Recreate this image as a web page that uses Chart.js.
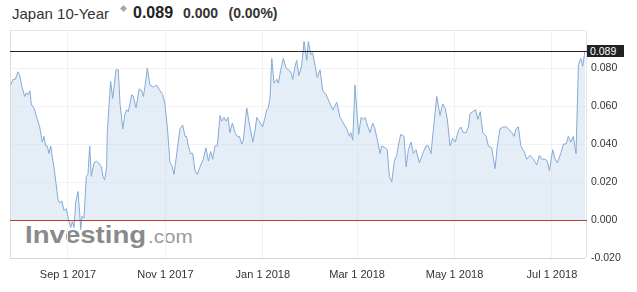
<!DOCTYPE html>
<html>
<head>
<meta charset="utf-8">
<script src="https://cdn.jsdelivr.net/npm/chart.js@4/dist/chart.umd.min.js"></script>
<style>
  html, body { margin:0; padding:0; background:#fff; }
  body { width:637px; height:292px; position:relative; overflow:hidden; font-family:"Liberation Sans", Arial, sans-serif; }
  #c { position:absolute; left:0; top:0; z-index:2; }
  .t { position:absolute; white-space:nowrap; }
  #logo1, #logo2 { z-index:1; }
  #hdr-box { z-index:3; }
</style>
</head>
<body>
<div class="t" style="left:12px; top:5.6px; font-size:15px; line-height:15px; color:#333;">Japan 10-Year</div>
<div style="position:absolute; left:121px; top:6px; width:5px; height:5px; background:#a8a8a8; transform:rotate(45deg);"></div>
<div class="t" style="left:133px; top:4.8px; font-size:16px; line-height:16px; font-weight:bold; color:#222;">0.089</div>
<div class="t" style="left:183px; top:6.4px; font-size:14px; line-height:14px; font-weight:bold; color:#333;">0.000</div>
<div class="t" style="left:228.5px; top:6.4px; font-size:14px; line-height:14px; font-weight:bold; color:#333;">(0.00%)</div>
<div id="logo1" class="t" style="left:25px; top:223.8px; font-size:23px; line-height:23px; font-weight:bold; color:#8a8a8a; transform:scaleX(1.2); transform-origin:left top;">Investing</div>
<div id="logo2" class="t" style="left:148px; top:228.1px; font-size:18px; line-height:18px; color:#9a9a9a; transform:scaleX(1.15); transform-origin:left top;">.com</div>
<div id="hdr-box" class="t" style="left:587px; top:45px; width:37px; height:12px; background:#222; color:#fff; font-size:10.5px; line-height:12px; padding-left:3px; box-sizing:border-box;">0.089</div>
<canvas id="c" width="637" height="292"></canvas>
<script>
// Days since 2017-07-01
const dayOffsets = [
26.1,27.6,29.0,30.7,31.8,33.2,34.9,35.9,37.0,38.2,
39.0,40.7,42.8,44.3,45.9,47.0,48.0,49.0,50.1,51.2,
52.2,53.7,55.7,56.8,58.2,59.5,60.9,62.4,63.7,64.7,
65.8,66.8,68.3,69.3,70.0,70.8,72.0,73.5,74.5,75.6,
76.6,78.3,79.7,81.2,82.9,83.9,85.0,86.2,86.6,88.7,
90.0,92.1,93.5,94.6,96.3,97.7,98.8,99.8,101.9,102.9,
104.6,106.6,108.2,109.2,110.2,111.7,113.3,115.4,117.5,119.6,
121.3,122.7,124.2,125.9,127.0,128.4,130.1,132.1,133.8,135.3,
136.3,137.3,138.8,140.1,141.5,143.0,144.7,146.7,148.4,149.9,
151.4,152.6,154.1,155.5,157.2,158.2,159.7,160.9,162.2,163.4,
164.9,166.6,168.0,169.3,170.8,171.8,173.9,175.5,177.7,179.1,
180.2,181.8,183.9,185.4,186.4,187.4,188.5,189.6,191.0,192.7,
193.7,195.2,196.8,198.5,200.0,201.5,202.7,204.2,205.2,206.5,
208.3,209.8,211.5,212.5,214.0,215.2,216.7,218.1,219.8,221.5,
223.6,225.6,227.8,230.3,232.3,234.4,236.5,238.2,239.0,240.3,
241.7,242.8,244.0,245.5,246.9,248.0,249.4,251.1,252.8,254.2,
255.7,257.4,258.4,260.5,261.9,263.2,264.7,266.3,267.8,268.8,
270.3,272.4,273.7,275.1,276.8,278.2,279.9,282.0,284.1,286.2,
287.6,289.3,290.7,292.9,294.9,296.6,298.1,299.5,301.2,302.9,
304.5,306.4,307.9,309.5,311.2,312.7,313.7,315.4,317.1,318.6,
320.1,321.7,323.8,325.2,327.3,329.4,330.8,332.5,334.6,336.3,
337.7,339.8,341.3,342.5,344.0,345.5,347.6,349.2,351.3,353.4,
355.5,357.1,358.6,360.7,362.1,363.4,365.5,367.0,368.4,370.5,
372.2,373.8,375.3,376.8,378.4,380.1,381.6,383.1,384.3,385.7
];
const yields = [
0.071,0.074,0.074,0.078,0.076,0.070,0.065,0.067,0.066,0.068,
0.061,0.059,0.053,0.049,0.041,0.044,0.039,0.039,0.035,0.039,
0.033,0.025,0.011,0.009,0.010,0.005,0.006,0.000,-0.004,-0.001,
-0.004,0.009,0.015,0.004,-0.005,0.002,0.001,0.023,0.024,0.039,
0.023,0.030,0.031,0.030,0.028,0.023,0.021,0.028,0.046,0.073,
0.064,0.079,0.079,0.061,0.048,0.056,0.058,0.057,0.066,0.065,
0.059,0.069,0.068,0.065,0.070,0.080,0.071,0.070,0.071,0.068,
0.066,0.061,0.049,0.030,0.029,0.024,0.035,0.048,0.050,0.044,
0.044,0.039,0.035,0.035,0.026,0.024,0.028,0.032,0.038,0.031,
0.036,0.032,0.039,0.039,0.055,0.052,0.054,0.052,0.054,0.046,
0.051,0.046,0.044,0.044,0.040,0.042,0.059,0.051,0.041,0.047,
0.054,0.052,0.049,0.054,0.058,0.059,0.064,0.085,0.072,0.074,
0.072,0.079,0.085,0.080,0.079,0.078,0.074,0.081,0.084,0.076,
0.081,0.094,0.084,0.094,0.087,0.088,0.081,0.075,0.079,0.068,
0.066,0.062,0.058,0.062,0.054,0.051,0.048,0.044,0.046,0.042,
0.071,0.058,0.045,0.054,0.053,0.054,0.050,0.046,0.051,0.048,
0.042,0.035,0.039,0.038,0.037,0.023,0.020,0.031,0.034,0.039,
0.045,0.044,0.028,0.037,0.041,0.035,0.037,0.030,0.035,0.039,
0.039,0.035,0.047,0.065,0.055,0.061,0.059,0.053,0.039,0.043,
0.041,0.047,0.049,0.046,0.046,0.049,0.056,0.057,0.058,0.053,
0.057,0.046,0.044,0.039,0.038,0.027,0.039,0.048,0.049,0.049,
0.048,0.046,0.044,0.048,0.049,0.039,0.036,0.032,0.034,0.032,
0.029,0.034,0.032,0.032,0.031,0.026,0.037,0.032,0.030,0.035,
0.040,0.040,0.044,0.041,0.044,0.035,0.082,0.085,0.081,0.089
];
const tickDays = [62, 123, 184, 243, 304, 365];
const tickLabels = ["Sep 1 2017", "Nov 1 2017", "Jan 1 2018", "Mar 1 2018", "May 1 2018", "Jul 1 2018"];
const lastValue = 0.089;
const zeroValue = 0;

const points = dayOffsets.map((d, i) => ({ x: d, y: yields[i] }));

const refLines = {
  id: 'refLines',
  beforeDatasetsDraw(chart) {
    const { ctx, chartArea: a } = chart;
    ctx.save();
    ctx.lineWidth = 1;
    ctx.strokeStyle = '#e4e4e4';
    ctx.beginPath(); ctx.moveTo(a.left, a.top + 0.5); ctx.lineTo(a.right, a.top + 0.5); ctx.stroke();
    ctx.beginPath(); ctx.moveTo(a.right + 1.5, a.top); ctx.lineTo(a.right + 1.5, a.bottom); ctx.stroke();
    ctx.strokeStyle = '#dcdcdc';
    ctx.beginPath(); ctx.moveTo(a.left + 0.5, a.top); ctx.lineTo(a.left + 0.5, a.bottom); ctx.stroke();
    ctx.strokeStyle = '#d4d4d4';
    ctx.beginPath(); ctx.moveTo(a.left, a.bottom + 0.5); ctx.lineTo(a.right, a.bottom + 0.5); ctx.stroke();
    ctx.restore();
  },
  afterDatasetsDraw(chart) {
    const { ctx, chartArea: a, scales: { y } } = chart;
    ctx.save();
    ctx.lineWidth = 1;
    const yz = Math.round(y.getPixelForValue(zeroValue)) + 0.5;
    ctx.strokeStyle = '#c0392b';
    ctx.beginPath(); ctx.moveTo(a.left, yz); ctx.lineTo(a.right + 2, yz); ctx.stroke();
    const yl = Math.round(y.getPixelForValue(lastValue)) + 0.5;
    ctx.strokeStyle = '#222';
    ctx.beginPath(); ctx.moveTo(a.left, yl); ctx.lineTo(a.right + 2, yl); ctx.stroke();
    ctx.restore();
  }
};

new Chart(document.getElementById('c'), {
  type: 'line',
  data: {
    datasets: [{
      data: points,
      borderColor: '#84aad5',
      borderWidth: 1,
      backgroundColor: 'rgba(212,226,241,0.6)',
      fill: 'origin',
      pointRadius: 0,
      tension: 0
    }]
  },
  options: {
    responsive: false,
    devicePixelRatio: 1,
    animation: false,
    layout: { padding: { left: 10, top: 30, right: 0, bottom: 0 } },
    plugins: { legend: { display: false }, tooltip: { enabled: false } },
    scales: {
      x: {
        type: 'linear',
        min: 25.7,
        max: 385.7,
        afterBuildTicks(scale) { scale.ticks = tickDays.map(v => ({ value: v })); },
        afterFit(scale) { scale.height = 34; },
        ticks: {
          autoSkip: false,
          maxRotation: 0,
          padding: 10,
          color: '#333',
          font: { family: 'Liberation Sans, Arial, sans-serif', size: 11 },
          callback: (v) => { const i = tickDays.indexOf(v); return i >= 0 ? tickLabels[i] : ''; }
        },
        grid: { color: '#f1f1f1', drawTicks: false },
        border: { display: false }
      },
      y: {
        position: 'right',
        min: -0.02,
        max: 0.1,
        afterFit(scale) { scale.width = 52; },
        ticks: {
          stepSize: 0.02,
          padding: 6,
          color: '#333',
          font: { family: 'Liberation Sans, Arial, sans-serif', size: 10.5 },
          callback: (v) => (v > 0.099 ? '' : v.toFixed(3))
        },
        grid: { color: '#f1f1f1', drawTicks: false },
        border: { display: false }
      }
    }
  },
  plugins: [refLines]
});
</script>
</body>
</html>
